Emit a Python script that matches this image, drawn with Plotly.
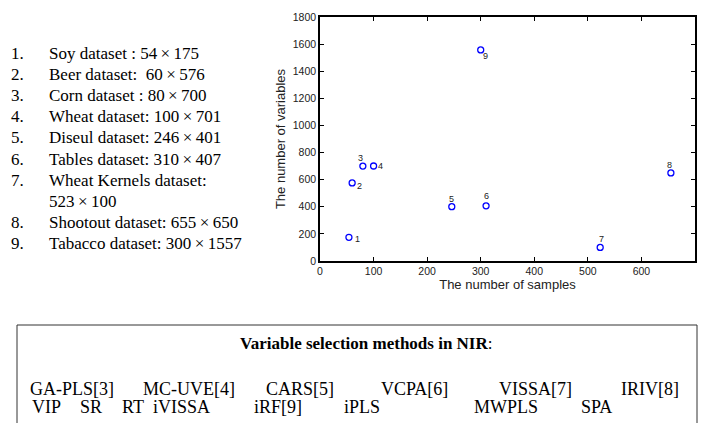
import plotly.graph_objects as go

# ---------------- data ----------------
ids = ["1", "2", "3", "4", "5", "6", "7", "8", "9"]
datasets = ["Soy", "Beer", "Corn", "Wheat", "Diseul", "Tables", "Wheat Kernels", "Shootout", "Tabacco"]
n_samples = [54, 60, 80, 100, 246, 310, 523, 655, 300]
n_variables = [175, 576, 700, 701, 401, 407, 100, 650, 1557]
colon_style = [" : ", ":  ", " : ", ": ", ": ", ": ", ": ", ": ", ": "]

methods_row1 = ["GA-PLS[3]", "MC-UVE[4]", "CARS[5]", "VCPA[6]", "VISSA[7]", "IRIV[8]"]
methods_row2 = ["VIP", "SR", "RT", "iVISSA", "iRF[9]", "iPLS", "MWPLS", "SPA"]
box_title = "Variable selection methods in NIR"

x_ticks = [0, 100, 200, 300, 400, 500, 600, 700]
y_ticks = [0, 200, 400, 600, 800, 1000, 1200, 1400, 1600, 1800]

# ---------------- layout helpers (pixel -> paper) ----------------
W, H = 703, 423
L, R, T, B = 320, 8, 17, 162
PW, PH = W - L - R, H - T - B


def px(x):
    return (x - L) / PW


def py(y):
    return (H - B - y) / PH


# label offsets (style): (dx, dy) in px, dy positive = up
label_offsets = [(9, -2), (7, -3), (-2, 8), (7, 0), (0, 8), (0, 10), (1, 8), (-1, 8), (5, -6)]

fig = go.Figure()
fig.add_trace(go.Scatter(
    x=n_samples, y=n_variables, mode="markers",
    marker=dict(symbol="circle-open", size=6, color="#0000ff", line=dict(width=1.3, color="#0000ff")),
    hoverinfo="skip", showlegend=False,
))

annotations = []
for i, lab in enumerate(ids):
    dx, dy = label_offsets[i]
    annotations.append(dict(
        x=n_samples[i], y=n_variables[i], xref="x", yref="y", text=lab, showarrow=False,
        xshift=dx, yshift=dy, font=dict(family="Liberation Sans, Arial", size=9, color="#222"),
    ))

# dataset list on the left
serif = "Liberation Serif, Times New Roman, serif"
row_y0, row_dy = 53, 21.2
row = 0
for i, name in enumerate(datasets):
    dims = f"{n_samples[i]}\u2009\u00d7\u2009{n_variables[i]}"
    head = f"{name} dataset{colon_style[i]}"
    lines = [head + dims] if len(head + dims) <= 27 else [head.rstrip(), dims]
    annotations.append(dict(
        x=px(9), y=py(row_y0 + row * row_dy), xref="paper", yref="paper", xanchor="left", yanchor="middle",
        text=f"{ids[i]}.", showarrow=False, font=dict(family=serif, size=17, color="black"),
    ))
    for ln in lines:
        annotations.append(dict(
            x=px(47), y=py(row_y0 + row * row_dy), xref="paper", yref="paper", xanchor="left", yanchor="middle",
            text=ln.replace("  ", "\u00a0\u00a0"), showarrow=False, font=dict(family=serif, size=17, color="black"),
        ))
        row += 1

# bottom box
box = dict(type="rect", xref="paper", yref="paper", x0=px(17), x1=px(697), y0=py(440), y1=py(325),
           line=dict(color="#333", width=1), fillcolor="rgba(0,0,0,0)", layer="above")

annotations.append(dict(
    x=px(366), y=py(343), xref="paper", yref="paper", xanchor="center", yanchor="middle",
    text=f"<b>{box_title}</b>:", showarrow=False, font=dict(family=serif, size=17, color="black"),
))
row1_x = [71.5, 188.5, 300, 414, 535, 649.5]
row2_x = [46.5, 91, 132.5, 181, 278, 362, 506, 596]
for m, xc in zip(methods_row1, row1_x):
    annotations.append(dict(x=px(xc), y=py(389), xref="paper", yref="paper", xanchor="center", yanchor="middle",
                            text=m, showarrow=False, font=dict(family=serif, size=18, color="black")))
for m, xc in zip(methods_row2, row2_x):
    annotations.append(dict(x=px(xc), y=py(407), xref="paper", yref="paper", xanchor="center", yanchor="middle",
                            text=m, showarrow=False, font=dict(family=serif, size=18, color="black")))

axis_common = dict(
    showline=True, linecolor="black", linewidth=1.5, mirror="ticks", ticks="inside", ticklen=4,
    tickcolor="black", tickwidth=1, showgrid=False, zeroline=False, automargin=False,
    tickfont=dict(family="Liberation Sans, Arial", size=10.5, color="#222"),
)

fig.update_layout(
    width=W, height=H, margin=dict(l=L, r=R, t=T, b=B, pad=0, autoexpand=False),
    paper_bgcolor="white", plot_bgcolor="white",
    xaxis=dict(range=[0, 700], tickvals=x_ticks, ticktext=[str(v) for v in x_ticks],
               title=dict(text="The number of samples", standoff=2,
                          font=dict(family="Liberation Sans, Arial", size=13, color="#222")),
               **axis_common),
    yaxis=dict(range=[0, 1800], tickvals=y_ticks, ticktext=[str(v) for v in y_ticks],
               title=dict(text="The number of variables", standoff=4,
                          font=dict(family="Liberation Sans, Arial", size=13, color="#222")),
               **axis_common),
    annotations=annotations, shapes=[box],
)

fig.write_html("out.html", config={"displayModeBar": False},
               post_script="document.body.style.margin='0';document.body.style.overflow='hidden';")
